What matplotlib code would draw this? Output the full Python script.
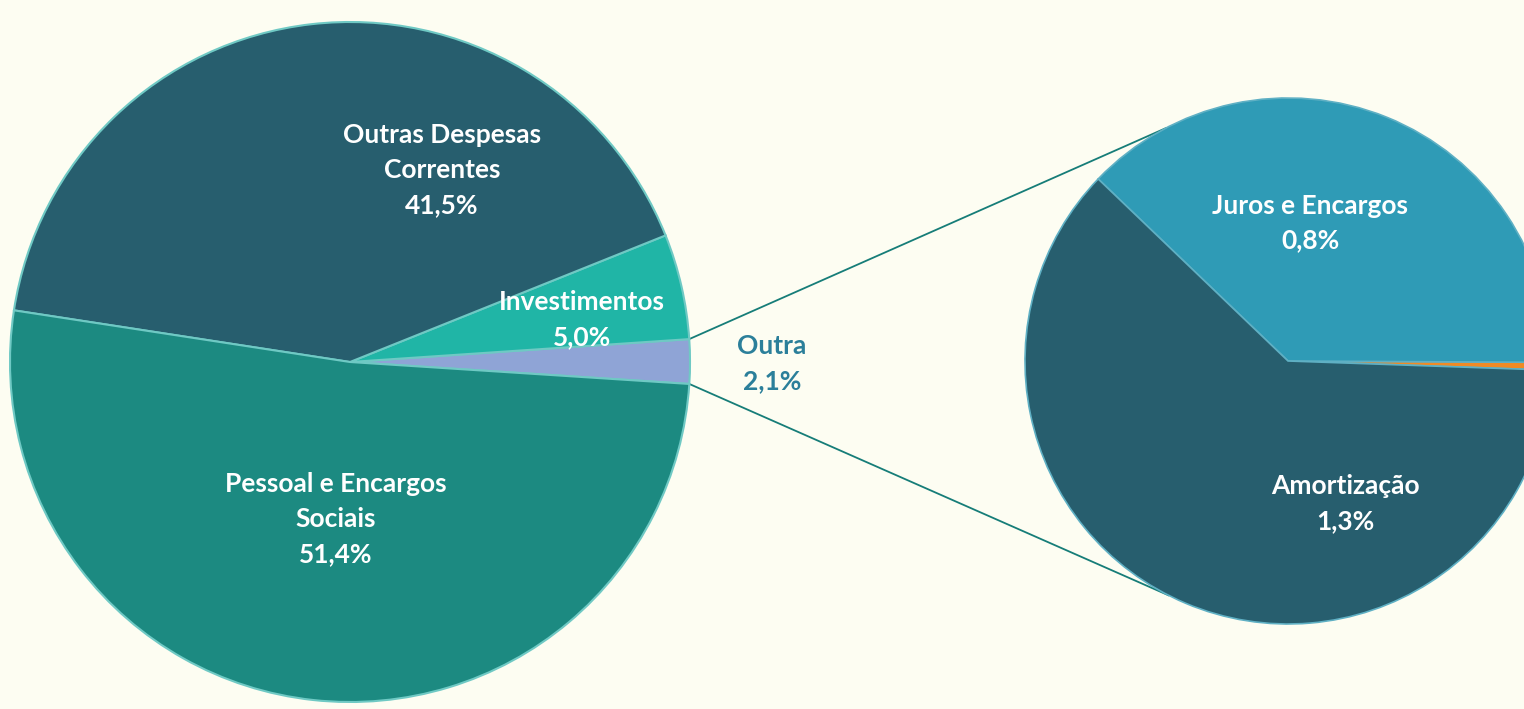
import numpy as np
import matplotlib.pyplot as plt

# main pie (shares of total, %)
main_labels = ["Outra", "Investimentos", "Outras Despesas\nCorrentes", "Pessoal e Encargos\nSociais"]
main_values = [2.1, 5.0, 41.5, 51.4]
main_colors = ["#8fa4d6", "#20b5a6", "#275e6e", "#1c8a81"]

# breakdown of "Outra"
sub_labels = ["", "Juros e Encargos", "Amortização"]
sub_values = [0.01, 0.8, 1.3]
sub_colors = ["#f08a24", "#2f9bb6", "#275e6e"]

bg = "#fdfdf2"
W, H = 1524, 709

fig = plt.figure(figsize=(W / 100, H / 100), dpi=100, facecolor=bg)
ax = fig.add_axes([0, 0, 1, 1])
ax.set_facecolor(bg)

c1, r1 = (350, 347), 340
c2, r2 = (1288, 348), 263

w1, _ = ax.pie(main_values, colors=main_colors, startangle=-3.7, counterclock=True,
               center=c1, radius=r1, normalize=True,
               wedgeprops=dict(edgecolor="#6fc9c4", linewidth=1.5))
w2, _ = ax.pie(sub_values, colors=sub_colors, startangle=-2.0, counterclock=True,
               center=c2, radius=r2, normalize=True,
               wedgeprops=dict(edgecolor="#5fb0c4", linewidth=1.2))
ax.set_xlim(0, W)
ax.set_ylim(0, H)
ax.set_aspect("auto")
ax.axis("off")

# connector lines from "Outra" slice to second pie
outra = w1[0]
for th1, th2 in [(outra.theta2, 117.8), (outra.theta1, -117.0)]:
    a, b = np.radians(th1), np.radians(th2)
    x0, y0 = c1[0] + r1 * np.cos(a), c1[1] + r1 * np.sin(a)
    x1, y1 = c2[0] + r2 * np.cos(b), c2[1] + r2 * np.sin(b)
    ax.plot([x0, x1], [y0, y1], color="#167d78", lw=1.3, zorder=0)

font = dict(family="Lato", weight="bold", fontsize=19, ha="center", va="center",
            linespacing=1.55)


def pct(v):
    return f"{v:.1f}%".replace(".", ",")


# label positions (pixel coords from top-left)
main_pos = [(772, 364), (582, 320), (442, 170), (336, 519)]
for lab, v, (x, y) in zip(main_labels, main_values, main_pos):
    col = "#2b7f9a" if lab == "Outra" else "white"
    ax.text(x, H - y, lab + "\n" + pct(v), color=col, **font)

sub_pos = [None, (1310, 223), (1345, 504)]
for lab, v, p in zip(sub_labels, sub_values, sub_pos):
    if p is None:
        continue
    ax.text(p[0], H - p[1], lab + "\n" + pct(v), color="white", **font)

fig.savefig("out.png", dpi=100, facecolor=bg)
